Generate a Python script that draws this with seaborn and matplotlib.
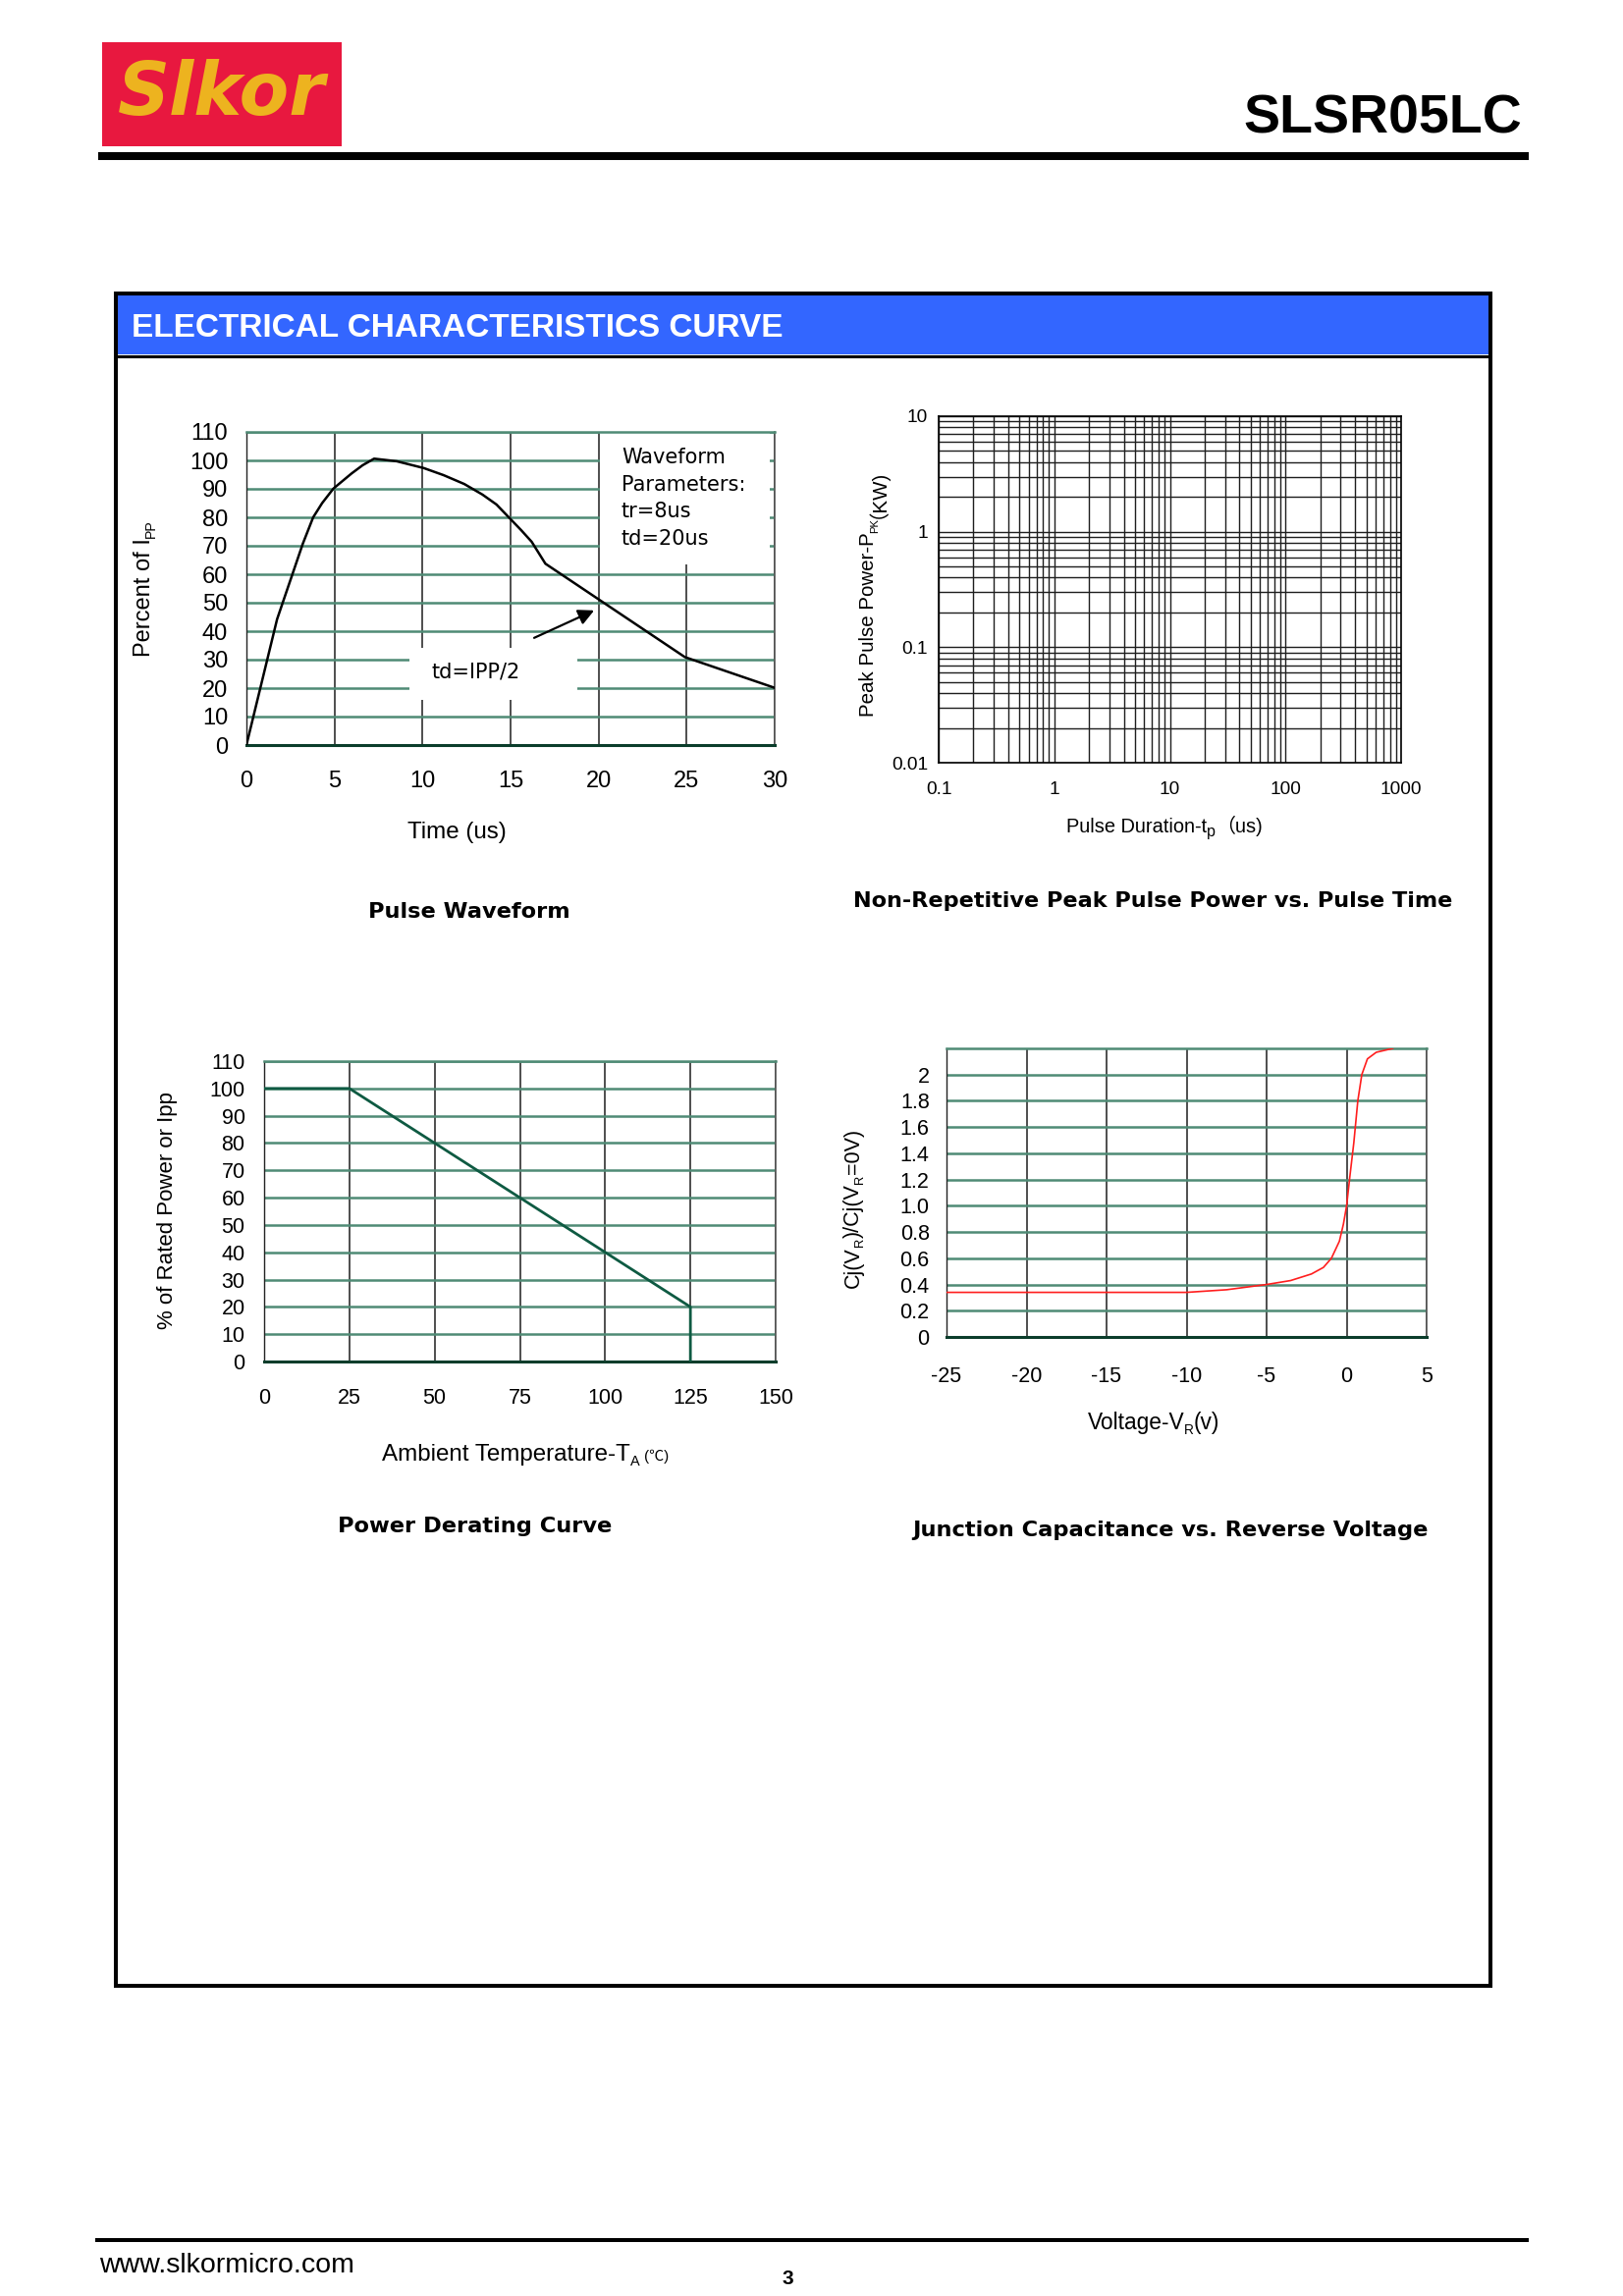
import matplotlib
matplotlib.use('Agg')
import matplotlib.pyplot as plt
from matplotlib.patches import Rectangle
import seaborn as sns

W, H = 1653, 2339
GREEN = '#4f8b75'
DARK_GREEN = '#0b3d2b'
GRID_BLACK = '#1e1e1e'
TAHOMA = 'DejaVu Sans'

# ---- values ----
# Pulse waveform: percent of Ipp vs time (us)
pulse_time_us = [0, 1.74, 3.2, 3.79, 4.3, 4.94, 5.97, 6.6, 7.25, 8.53, 10.07, 11.2, 12.37,
                 13.4, 14.2, 14.9, 15.6, 16.2, 16.98, 24.9, 30]
pulse_percent = [0, 44.2, 70.7, 80, 85, 90.1, 95.4, 98.3, 100.6, 99.7, 97.3, 94.8, 91.7,
                 88, 84.5, 80, 75.5, 71.4, 63.7, 30.9, 20.1]
pulse_xticks = [0, 5, 10, 15, 20, 25, 30]
pulse_yticks = [0, 10, 20, 30, 40, 50, 60, 70, 80, 90, 100, 110]

# Non-repetitive peak pulse power (empty log-log grid)
power_xticks = [0.1, 1, 10, 100, 1000]
power_xlabels = ['0.1', '1', '10', '100', '1000']
power_yticks = [0.01, 0.1, 1, 10]
power_ylabels = ['0.01', '0.1', '1', '10']

# Power derating
derating_temp_c = [0, 25, 125, 125]
derating_percent = [100, 100, 20, 0]
derating_xticks = [0, 25, 50, 75, 100, 125, 150]
derating_yticks = [0, 10, 20, 30, 40, 50, 60, 70, 80, 90, 100, 110]

# Junction capacitance ratio vs reverse voltage
cap_voltage_v = [-25, -10, -7.5, -5, -3.5, -2.2, -1.45, -0.95, -0.45, -0.2, 0, 0.2, 0.45,
                 0.7, 0.95, 1.3, 1.85, 2.9]
cap_ratio = [0.34, 0.34, 0.36, 0.40, 0.43, 0.48, 0.53, 0.60, 0.73, 0.86, 1.0, 1.22, 1.48,
             1.80, 2.0, 2.12, 2.17, 2.2]
cap_xticks = [-25, -20, -15, -10, -5, 0, 5]
cap_yticks = [0, 0.2, 0.4, 0.6, 0.8, 1.0, 1.2, 1.4, 1.6, 1.8, 2.0]
cap_ylabels = ['0', '0.2', '0.4', '0.6', '0.8', '1.0', '1.2', '1.4', '1.6', '1.8', '2']

sns.set_style('white')
plt.rcParams['font.family'] = ['Liberation Sans', 'Noto Sans CJK SC', 'DejaVu Sans']
plt.rcParams['text.color'] = 'black'
plt.rcParams['axes.unicode_minus'] = False

fig = plt.figure(figsize=(W / 100, H / 100), dpi=100)
fig.patch.set_facecolor('white')

# page layer in pixel coordinates (y downwards)
page = fig.add_axes([0, 0, 1, 1])
page.set_xlim(0, W)
page.set_ylim(H, 0)
page.axis('off')
renderer = fig.canvas.get_renderer()


def rich_text(cx, cy, parts, size, rotation=0):
    # parts: (text, size scale, is subscript). cx/cy: run centre and baseline
    pieces = []
    for s, scale, sub in parts:
        t = page.text(0, 0, s, fontsize=size * scale, rotation=rotation,
                      rotation_mode='anchor', ha='left', va='baseline')
        ext = t.get_window_extent(renderer)
        pieces.append((t, ext.height if rotation else ext.width, sub))
    total = sum(p[1] for p in pieces)
    pos = -total / 2
    drop = size * 0.2 * 100 / 72
    for t, length, sub in pieces:
        if rotation:
            t.set_position((cx + (drop if sub else 0), cy - pos))
        else:
            t.set_position((cx + pos, cy + (drop if sub else 0)))
        pos += length


def chart_axes(left, top, right, bottom):
    return fig.add_axes([left / W, 1 - bottom / H, (right - left) / W, (bottom - top) / H])


def green_frame(ax, labelsize, xpad, ypad):
    ax.set_axisbelow(True)
    ax.xaxis.grid(True, color=GRID_BLACK, lw=1.1)
    ax.yaxis.grid(True, color=GREEN, lw=1.8)
    ax.tick_params(length=0, labelsize=labelsize, colors='black')
    ax.tick_params(axis='x', pad=xpad)
    ax.tick_params(axis='y', pad=ypad)
    ax.spines['left'].set(color='#222222', lw=1.0)
    ax.spines['right'].set(color='#555555', lw=1.2)
    ax.spines['top'].set(color=GREEN, lw=1.8)
    ax.spines['bottom'].set(color=DARK_GREEN, lw=2.2)
    ax.set_xlabel('')
    ax.set_ylabel('')


# ---- header ----
page.add_patch(Rectangle((104, 43), 244, 106, facecolor='#E8183F', edgecolor='none'))
page.text(226, 117, 'Slkor', ha='center', va='baseline', color='#EDB31F', fontsize=53,
          family='DejaVu Sans', fontweight='bold', fontstyle='oblique')
page.text(1550, 136, 'SLSR05LC', ha='right', va='baseline', fontsize=40, fontweight='bold')
page.plot([100, 1557], [159, 159], color='black', lw=5.8, solid_capstyle='butt')

# ---- section box ----
page.add_patch(Rectangle((118, 299), 1400, 62, facecolor='#3366FF', edgecolor='none'))
page.add_patch(Rectangle((118, 299), 1400, 1724, facecolor='none', edgecolor='black', lw=2.9))
page.plot([118, 1518], [362.5, 362.5], color='black', lw=2.2, solid_capstyle='butt')
page.text(134, 343, 'ELECTRICAL CHARACTERISTICS CURVE', color='white', fontsize=24,
          fontweight='bold', va='baseline')

# ---- footer ----
page.plot([97, 1557], [2282, 2282], color='black', lw=2.9, solid_capstyle='butt')
page.text(101, 2315, 'www.slkormicro.com', fontsize=20.5, va='baseline')
page.text(802, 2327, '3', fontsize=15, fontweight='bold', ha='center', va='baseline')

# ---- Pulse waveform ----
ax1 = chart_axes(251, 440, 789, 759)
sns.lineplot(x=pulse_time_us, y=pulse_percent, ax=ax1, color='black', lw=1.8,
             sort=False, estimator=None, zorder=3)
ax1.set_xlim(0, 30)
ax1.set_ylim(0, 110)
ax1.set_xticks(pulse_xticks)
ax1.set_yticks(pulse_yticks)
green_frame(ax1, 17, 19, 13.5)
ax1.add_patch(Rectangle((20.06, 63.3), 9.68, 46.7, facecolor='white', edgecolor='none', zorder=2))
ax1.add_patch(Rectangle((9.25, 15.8), 9.55, 18.5, facecolor='white', edgecolor='none', zorder=2))
for txt, yv in [('Waveform', 101), ('Parameters:', 91.4), ('tr=8us', 81.9), ('td=20us', 72.3)]:
    ax1.text(21.3, yv, txt, va='center', ha='left', fontsize=15, family=TAHOMA, zorder=4)
ax1.text(13.0, 25.7, 'td=IPP/2', va='center', ha='center', fontsize=15, family=TAHOMA, zorder=4)
ax1.annotate('', xy=(19.75, 47.3), xytext=(16.34, 37.65), zorder=4,
             arrowprops=dict(arrowstyle='-|>', color='black', lw=1.6, mutation_scale=24,
                             shrinkA=0, shrinkB=0))
rich_text(465, 854, [('Time (us)', 1, False)], 17.4)
rich_text(153, 599, [('Percent of I', 1, False), ('PP', 0.6, True)], 17, rotation=90)
page.text(478, 929, 'Pulse Waveform', ha='center', va='center', fontsize=16.2,
          family=TAHOMA, fontweight='bold')

# ---- Peak pulse power ----
ax2 = chart_axes(956, 424, 1427, 777)
ax2.set_xscale('log')
ax2.set_yscale('log')
ax2.set_xlim(0.1, 1000)
ax2.set_ylim(0.01, 10)
ax2.set_xticks(power_xticks)
ax2.set_xticklabels(power_xlabels)
ax2.set_yticks(power_yticks)
ax2.set_yticklabels(power_ylabels)
ax2.grid(True, which='both', color=GRID_BLACK, lw=1.0)
ax2.tick_params(which='both', length=0, labelsize=13.7, colors='black')
ax2.tick_params(axis='x', pad=13.5)
ax2.tick_params(axis='y', pad=8)
for sp in ax2.spines.values():
    sp.set(color='black', lw=1.2)
rich_text(890, 599, [('Peak Pulse Power-P', 1, False), ('PK', 0.55, True), ('（KW)', 1, False)],
          14.8, rotation=90)
rich_text(1186, 848, [('Pulse Duration-t', 1, False), ('p', 0.8, True), ('（us)', 1, False)], 14.4)
page.text(1174, 918, 'Non-Repetitive Peak Pulse Power vs. Pulse Time', ha='center',
          va='center', fontsize=16.1, family=TAHOMA, fontweight='bold')

# ---- Power derating ----
ax3 = chart_axes(269, 1081, 790, 1387)
sns.lineplot(x=derating_temp_c, y=derating_percent, ax=ax3, color='#0e5a42', lw=2,
             sort=False, estimator=None, zorder=3)
ax3.set_xlim(0, 150)
ax3.set_ylim(0, 110)
ax3.set_xticks(derating_xticks)
ax3.set_yticks(derating_yticks)
green_frame(ax3, 15.5, 19.5, 14)
rich_text(176, 1233, [('% of Rated Power or Ipp', 1, False)], 16, rotation=90)
rich_text(535, 1488, [('Ambient Temperature-T', 1, False), ('A', 0.6, True), (' (℃)', 0.62, False)],
          17.4)
page.text(484, 1555, 'Power Derating Curve', ha='center', va='center', fontsize=16.2,
          family=TAHOMA, fontweight='bold')

# ---- Junction capacitance ----
ax4 = chart_axes(964, 1068, 1453, 1362)
sns.lineplot(x=cap_voltage_v, y=cap_ratio, ax=ax4, color='#FF1E1E', lw=1.2,
             sort=False, estimator=None, zorder=3)
ax4.set_xlim(-25, 5)
ax4.set_ylim(0, 2.2)
ax4.set_xticks(cap_xticks)
ax4.set_yticks(cap_yticks)
ax4.set_yticklabels(cap_ylabels)
green_frame(ax4, 15.5, 21.5, 12.5)
rich_text(875, 1231, [('Cj(V', 1, False), ('R', 0.6, True), (')/Cj(V', 1, False),
                      ('R', 0.6, True), ('=0V)', 1, False)], 15.5, rotation=90)
rich_text(1175, 1456, [('Voltage-V', 1, False), ('R', 0.6, True), ('(v)', 1, False)], 16.4)
page.text(1192, 1559, 'Junction Capacitance vs. Reverse Voltage', ha='center', va='center',
          fontsize=16.2, family=TAHOMA, fontweight='bold')

fig.savefig('out.png', dpi=100, facecolor='white')
